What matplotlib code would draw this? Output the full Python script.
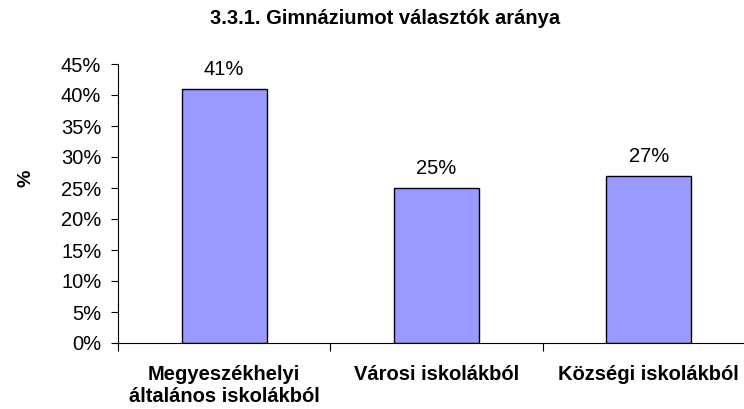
import numpy as np
import matplotlib.pyplot as plt
from matplotlib.ticker import PercentFormatter

plt.rcParams['font.family'] = ['Liberation Sans', 'DejaVu Sans']

# adatok
categories = ['Megyeszékhelyi\náltalános iskolákból', 'Városi iskolákból', 'Községi iskolákból']
values = [41, 25, 27]
yticks = np.arange(0, 50, 5)

fig = plt.figure(figsize=(7.44, 4.09), dpi=100)
ax = fig.add_axes([118/744, 1 - 343/409, 637/744, (343 - 64)/409])

x = np.arange(len(categories))
bars = ax.bar(x, values, width=0.4, color='#9999FF', edgecolor='black', linewidth=1)

for b, v in zip(bars, values):
    ax.annotate(f'{v}%', (b.get_x() + b.get_width()/2, v), xytext=(0, 7),
                textcoords='offset points', ha='center', va='bottom', fontsize=14.5)

ax.set_xlim(-0.5, len(categories) - 0.5)
ax.set_ylim(0, 45)
ax.set_yticks(yticks)
ax.yaxis.set_major_formatter(PercentFormatter(decimals=0))
ax.tick_params(axis='y', labelsize=14.5, length=5, direction='out', pad=7)

# kategória határok tickjei, feliratok középen
ax.set_xticks(np.arange(-0.5, len(categories), 1))
ax.set_xticklabels([])
ax.tick_params(axis='x', which='major', length=6, direction='out')
ax.set_xticks(x, minor=True)
ax.set_xticklabels(categories, minor=True, fontsize=14.5, fontweight='bold')
ax.tick_params(axis='x', which='minor', length=0, pad=16)

for s in ['top', 'right']:
    ax.spines[s].set_visible(False)

ax.set_ylabel('%', fontsize=14, fontweight='bold', va='center')
ax.yaxis.set_label_coords(-0.145, 0.59)
fig.text(385/744, 1 - 19/409, '3.3.1. Gimnáziumot választók aránya',
         ha='center', va='center', fontsize=14.5, fontweight='bold')

fig.savefig('out.png', dpi=100)
